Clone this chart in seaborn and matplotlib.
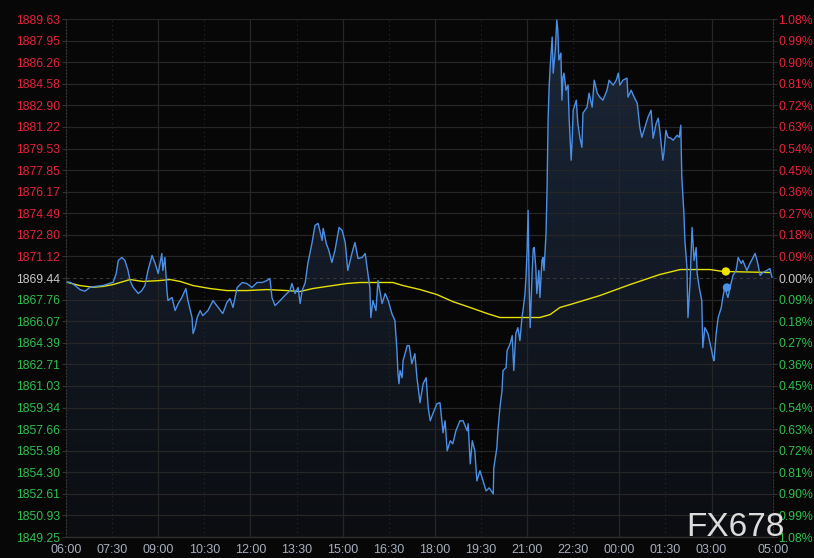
"""
Intraday gold chart, dark theme, price on the left and change in percent on the right
"""

import numpy as np
import pandas as pd
import seaborn as sns
import matplotlib.pyplot as plt
from matplotlib.colors import LinearSegmentedColormap

# minutes after 06:00 and price of the tick line
tick_minutes = [
    2, 8, 18, 27, 37, 47, 61, 72, 86, 92, 98, 102, 109, 115, 121, 125, 131, 141,
    148, 154, 160, 168, 174, 180, 187, 189, 193, 197, 199, 207, 213, 219, 226, 234,
    238, 246, 248, 252, 256, 262, 267, 277, 287, 297, 306, 314, 320, 326, 334, 344,
    353, 363, 373, 383, 392, 398, 402, 408, 418, 427, 437, 441, 447, 453, 457, 461,
    467, 472, 480, 486, 492, 500, 502, 508, 513, 519, 525, 533, 539, 545, 550, 558,
    564, 570, 578, 584, 589, 593, 595, 599, 605, 609, 617, 623, 629, 636, 642, 646,
    648, 650, 652, 656, 658, 666, 670, 675, 681, 685, 691, 697, 703, 707, 711, 716,
    724, 730, 736, 740, 744, 750, 755, 761, 769, 775, 783, 785, 789, 793, 798, 802,
    808, 814, 820, 826, 834, 835, 841, 843, 847, 851, 853, 859, 861, 867, 871, 874,
    878, 882, 886, 890, 892, 896, 898, 900, 902, 904, 906, 910, 912, 914, 917, 919,
    923, 925, 929, 931, 933, 937, 939, 941, 943, 945, 949, 951, 955, 958, 960, 962,
    966, 968, 970, 972, 976, 980, 982, 986, 988, 990, 996, 999, 1003, 1007, 1009, 1017,
    1021, 1027, 1031, 1037, 1042, 1048, 1056, 1060, 1068, 1074, 1078, 1081, 1087, 1095,
    1097, 1103, 1109, 1115, 1117, 1120, 1124, 1130, 1136, 1142, 1146, 1152, 1156, 1159,
    1165, 1167, 1171, 1175, 1181, 1185, 1193, 1197, 1200, 1202, 1206, 1208, 1212, 1214,
    1218, 1222, 1226, 1230, 1232, 1236, 1241, 1243, 1247, 1253, 1259, 1263, 1265, 1269,
    1273, 1279, 1282, 1286, 1292, 1298, 1302, 1308, 1312, 1318, 1321, 1329, 1335, 1345,
    1349, 1355, 1360, 1368, 1374, 1378,
]
tick_prices = [
    1869.11, 1869.11, 1868.85, 1868.54, 1868.41, 1868.72, 1868.80, 1868.85, 1869.03, 1869.11,
    1869.79, 1870.81, 1871.04, 1870.81, 1870.03, 1869.24, 1868.72, 1868.23, 1868.46, 1868.85,
    1870.03, 1871.20, 1870.57, 1869.79, 1871.35, 1870.03, 1871.04, 1868.46, 1867.68, 1867.92,
    1866.90, 1867.45, 1867.92, 1868.62, 1867.68, 1866.36, 1865.11, 1865.57, 1866.36, 1866.90,
    1866.51, 1866.90, 1867.68, 1867.14, 1866.67, 1867.53, 1867.84, 1867.14, 1868.70, 1869.09,
    1869.01, 1868.70, 1869.09, 1869.09, 1869.24, 1869.40, 1867.92, 1867.29, 1867.68, 1868.07,
    1868.46, 1869.01, 1868.23, 1868.70, 1867.45, 1868.46, 1869.09, 1870.57, 1872.13, 1873.54,
    1873.70, 1872.37, 1873.31, 1872.13, 1871.59, 1870.65, 1871.59, 1873.38, 1873.15, 1872.21,
    1870.03, 1871.35, 1872.21, 1870.96, 1871.04, 1871.35, 1869.87, 1868.70, 1866.36, 1867.68,
    1866.90, 1869.24, 1867.45, 1868.23, 1867.68, 1866.67, 1866.12, 1863.78, 1861.98, 1861.20,
    1862.22, 1861.67, 1863.00, 1864.17, 1864.17, 1862.76, 1863.54, 1861.67, 1859.72, 1861.20,
    1861.67, 1859.33, 1858.31, 1858.86, 1859.64, 1859.72, 1857.37, 1858.31, 1855.97, 1856.75,
    1856.51, 1857.53, 1858.31, 1858.31, 1857.53, 1858.08, 1854.95, 1856.75, 1855.97, 1853.62,
    1854.41, 1853.62, 1852.84, 1853.08, 1852.61, 1854.64, 1856.20, 1857.53, 1859.33, 1860.65,
    1862.22, 1862.45, 1863.78, 1864.32, 1864.95, 1862.22, 1865.11, 1865.57, 1864.56, 1866.36,
    1866.90, 1868.23, 1869.64, 1871.59, 1874.71, 1869.01, 1865.57, 1870.03, 1871.74, 1871.82,
    1870.26, 1868.23, 1870.03, 1867.92, 1870.81, 1871.04, 1870.03, 1872.92, 1876.51, 1881.74,
    1884.32, 1885.88, 1888.22, 1885.41, 1887.21, 1889.55, 1888.77, 1886.43, 1886.97, 1883.30,
    1885.10, 1885.41, 1884.08, 1884.47, 1881.98, 1878.62, 1880.18, 1882.52, 1883.30, 1881.51,
    1880.41, 1879.63, 1882.29, 1882.76, 1883.85, 1882.76, 1884.86, 1883.85, 1883.54, 1883.30,
    1884.08, 1884.86, 1884.47, 1884.86, 1885.41, 1884.47, 1884.86, 1885.02, 1883.54, 1884.08,
    1883.54, 1883.07, 1882.29, 1881.19, 1880.41, 1881.19, 1881.98, 1882.52, 1880.33, 1881.51,
    1881.90, 1880.96, 1878.62, 1879.16, 1880.96, 1880.41, 1880.33, 1880.18, 1880.57, 1880.41,
    1881.35, 1877.29, 1874.56, 1872.37, 1870.26, 1866.36, 1869.01, 1873.38, 1870.81, 1871.82,
    1869.79, 1868.70, 1867.68, 1864.01, 1865.57, 1865.11, 1864.01, 1863.23, 1863.00, 1865.11,
    1866.36, 1867.14, 1867.92, 1868.70, 1867.92, 1869.01, 1869.64, 1870.03, 1871.04, 1870.57,
    1870.81, 1870.03, 1870.57, 1871.35, 1870.81, 1869.64, 1869.87, 1870.03, 1870.18, 1869.48,
]

# moving average (yellow)
avg_minutes = [
    2, 27, 53, 72, 92, 125, 150, 183, 203, 223, 248, 281, 314, 353, 392, 431, 457, 482,
    509, 548, 574, 599, 638, 658, 691, 724, 755, 789, 822, 847, 867, 900, 925, 945,
    964, 984, 1042, 1101, 1159, 1199, 1257, 1282, 1374,
]
avg_prices = [
    1869.11, 1868.85, 1868.72, 1868.78, 1868.93, 1869.32, 1869.17, 1869.24, 1869.32, 1869.17,
    1868.85, 1868.62, 1868.46, 1868.46, 1868.54, 1868.46, 1868.39, 1868.62, 1868.78, 1869.01,
    1869.09, 1869.09, 1869.09, 1868.85, 1868.54, 1868.15, 1867.60, 1867.14, 1866.67, 1866.36,
    1866.36, 1866.36, 1866.36, 1866.59, 1867.14, 1867.37, 1868.07, 1868.93, 1869.71, 1870.10,
    1870.10, 1869.95, 1869.87,
]

# current-value dots
dot_minutes = [1290, 1288]
dot_prices = [1868.70, 1869.95]

price_labels = [
    "1889.63", "1887.95", "1886.26", "1884.58", "1882.90", "1881.22", "1879.53",
    "1877.85", "1876.17", "1874.49", "1872.80", "1871.12", "1869.44", "1867.76",
    "1866.07", "1864.39", "1862.71", "1861.03", "1859.34", "1857.66", "1855.98",
    "1854.30", "1852.61", "1850.93", "1849.25",
]
pct_labels = [
    "1.08%", "0.99%", "0.90%", "0.81%", "0.72%", "0.63%", "0.54%", "0.45%", "0.36%",
    "0.27%", "0.18%", "0.09%", "0.00%", "0.09%", "0.18%", "0.27%", "0.36%", "0.45%",
    "0.54%", "0.63%", "0.72%", "0.81%", "0.90%", "0.99%", "1.08%",
]
time_labels = [
    "06:00", "07:30", "09:00", "10:30", "12:00", "13:30", "15:00", "16:30",
    "18:00", "19:30", "21:00", "22:30", "00:00", "01:30", "03:00", "05:00",
]

BASE = 1869.44
BG = "#070707"
RED = "#e5233b"
GREEN = "#2fbf4f"
NEUTRAL = "#c6c6c6"


def to_minutes(label: str) -> int:
    h, m = label.split(":")
    return (int(h) * 60 + int(m) - 360) % 1440


sns.set_style("dark")
plt.rcParams["font.family"] = ["Liberation Sans", "DejaVu Sans"]

fig = plt.figure(figsize=(8.14, 5.58), dpi=100, facecolor=BG)
ax = fig.add_axes([66 / 814, 21 / 558, 707 / 814, 518 / 558])
ax.set_facecolor(BG)

price_pos = [float(p) for p in price_labels]
y_lo, y_hi = min(price_pos), max(price_pos)
x_pos = [to_minutes(t) if i < len(time_labels) - 1 else 1380 for i, t in enumerate(time_labels)]
x_end = x_pos[-1]

df = pd.DataFrame({"minute": tick_minutes, "price": tick_prices})
avg = pd.DataFrame({"minute": avg_minutes, "price": avg_prices})

# gradient fill under the tick line
poly = ax.fill_between(df["minute"], df["price"], y_lo, color="none", lw=0)
cmap = LinearSegmentedColormap.from_list("fill", ["#0b0d11", "#1b2739"])
grad = np.linspace(0, 1, 256).reshape(-1, 1)
im = ax.imshow(grad, extent=[0, x_end, y_lo, y_hi], origin="lower", aspect="auto",
               cmap=cmap, zorder=0.2)
im.set_clip_path(poly.get_paths()[0], transform=ax.transData)

# grid
for p in price_pos:
    if abs(p - BASE) < 1e-6:
        ax.axhline(p, color="#3a3a3a", lw=0.8, ls=(0, (3, 3)), zorder=1)
    else:
        ax.axhline(p, color="#262626", lw=0.9, zorder=1)
for t in x_pos[1:-1]:
    if t % 180 == 0:
        ax.axvline(t, color="#262626", lw=0.9, zorder=1)
    else:
        ax.axvline(t, color="#2a2a2a", lw=0.8, ls=(0, (1, 3)), zorder=1)

sns.lineplot(data=avg, x="minute", y="price", color="#e6e000", lw=1.0,
             estimator=None, ax=ax, zorder=3)
sns.lineplot(data=df, x="minute", y="price", color="#4b8fe6", lw=1.0,
             estimator=None, ax=ax, zorder=4)
sns.scatterplot(x=dot_minutes, y=dot_prices, hue=[0, 1], palette=["#4b8fe6", "#f0e400"],
                s=36, edgecolor="none", legend=False, ax=ax, zorder=5)

ax.set_xlim(0, x_end)
ax.set_ylim(y_lo, y_hi)
ax.set_xlabel("")
ax.set_ylabel("")
ax.set_xticks(x_pos)
ax.set_xticklabels(time_labels)
ax.set_yticks(price_pos)
ax.set_yticklabels(price_labels)
ax.tick_params(axis="x", length=3, pad=2, colors="#333333", labelcolor="#a7afbd", labelsize=9)
ax.tick_params(axis="y", length=3, pad=1, colors="#333333", labelsize=8.8)

ax2 = ax.twinx()
ax2.set_ylim(y_lo, y_hi)
ax2.set_yticks(price_pos)
ax2.set_yticklabels(pct_labels)
ax2.tick_params(axis="y", length=3, pad=1, colors="#333333", labelsize=8.8)

for lab_list in (ax.get_yticklabels(), ax2.get_yticklabels()):
    for p, lab in zip(price_pos, lab_list):
        if p > BASE + 1e-6:
            lab.set_color(RED)
        elif p < BASE - 1e-6:
            lab.set_color(GREEN)
        else:
            lab.set_color(NEUTRAL)

for a in (ax, ax2):
    for side in ("left", "right", "top"):
        a.spines[side].set_color("#333333")
        a.spines[side].set_linestyle((0, (1, 2)))
        a.spines[side].set_linewidth(0.8)
    a.spines["top"].set_visible(False)
    a.spines["bottom"].set_color("#2c2c2c")
    a.spines["bottom"].set_linewidth(0.9)

fig.text(686 / 814, 22 / 558, "FX678", fontsize=24, color="#dcdcdc",
         ha="left", va="baseline")

fig.savefig("out.png", dpi=100, facecolor=BG)
